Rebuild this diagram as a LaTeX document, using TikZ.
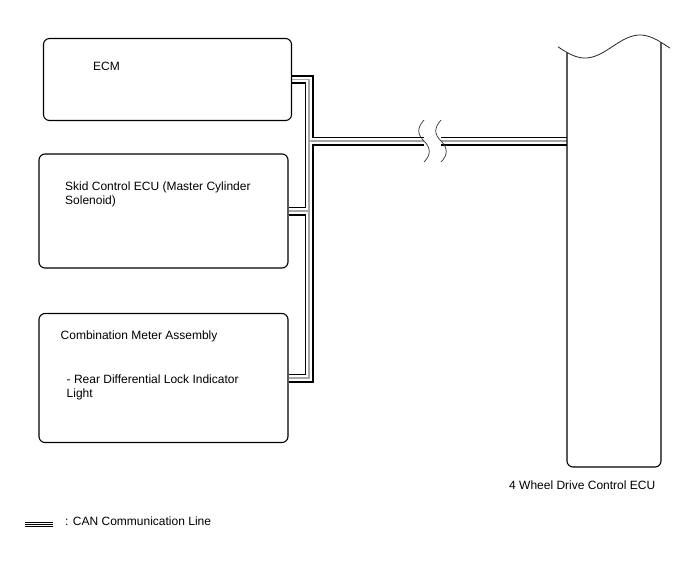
\documentclass[tikz,border=0pt]{standalone}
\usepackage{fontspec}
\setmainfont{Liberation Sans}
\usetikzlibrary{backgrounds}
\begin{document}
\begin{tikzpicture}[
        x=1pt,
        y=-1pt,
        every node/.style={font=\fontsize{12}{14}\selectfont,inner sep=0pt},
        ecu box/.style={draw=black,line width=1.1pt,rounded corners=6pt},
        box text/.style={anchor=base west,align=left},
        can line/.style={line width=9pt,black,
            postaction={draw=white,line width=5.5pt},
            postaction={draw=gray!70,line width=1.4pt}},
        can key/.style={line width=5pt,black,
            postaction={draw=white,line width=3pt},
            postaction={draw=black,line width=1pt}},
        break mark/.style={gray!40!black,line width=0.7pt},
        wave edge/.style={gray!30!black,line width=0.8pt}
    ]
        \useasboundingbox (0,0) rectangle (688,560);

        \node[ecu box,minimum width=248pt,minimum height=82pt] (ecm) at (167.5,79.5) {};
        \node[ecu box,minimum width=249pt,minimum height=114pt] (skid) at (163.5,211) {};
        \node[ecu box,minimum width=249pt,minimum height=129pt] (comb) at (163.5,378) {};

        \node[box text] (ecm text) at (93,70) {ECM};
        \node[box text] (skid text) at (65,204) {Skid Control ECU (Master Cylinder\\Solenoid)};
        \node[box text] (comb title) at (60.5,339) {Combination Meter Assembly};
        \node[box text] (comb lamp) at (66.5,397) {- Rear Differential Lock Indicator\\Light};

        \draw[ecu box] (567,52.4) -- (567,467) -- (661,467) -- (661,42.3);
        \draw[wave edge] plot[domain=558:670,samples=60,smooth] (\x,{46.5+11.5*cos(3.2727*(\x-585))});
        \node[box text] (ecu label) at (509,489) {4 Wheel Drive Control ECU};

        \coordinate (joint) at (309,141);
        \coordinate (gap left) at (424,141);
        \coordinate (gap right) at (441,141);
        \coordinate (ecu port) at (567,141);

        \begin{scope}[on background layer]
            \draw[can line] (ecm.east) -| (comb.east -| joint) -- (comb.east)
                (skid.east) -- (skid.east -| joint)
                (joint) -- (gap left)
                (gap right) -- (ecu port);
        \end{scope}

        \foreach \bx in {424,441} {
            \draw[break mark] (\bx,120) .. controls (\bx-7,128) and (\bx-7,134) .. (\bx,141)
                .. controls (\bx+7,148) and (\bx+7,155) .. (\bx,162);
        }

        \coordinate (key start) at (25,524);
        \coordinate (key end) at (53,524);
        \draw[can key] (key start) -- (key end);
        \node[box text] (key text) at (65,525) {: CAN Communication Line};
    \end{tikzpicture}
\end{document}
